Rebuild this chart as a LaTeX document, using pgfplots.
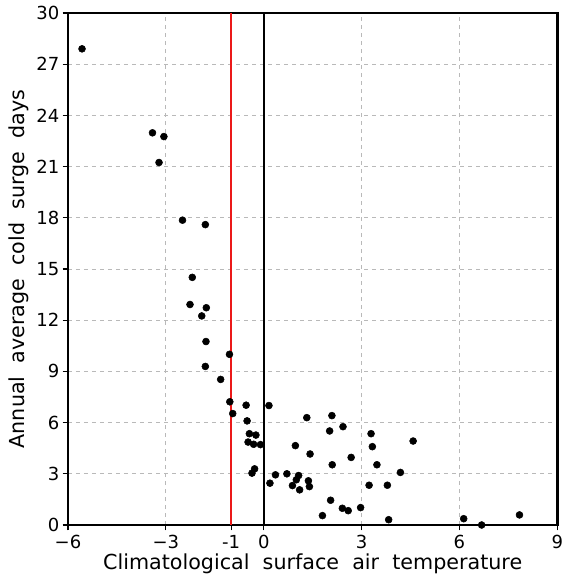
\documentclass[border=0pt]{standalone}
\usepackage{fontspec}
\setmainfont{DejaVu Sans}
\usepackage{pgfplots}
\pgfplotsset{compat=1.18}
\definecolor{refline}{RGB}{235,25,25}

\begin{document}
\begin{tikzpicture}
\begin{axis}[
    name=ax,
    scale only axis,
    width=367pt, height=384pt,
    xmin=-6, xmax=9, ymin=0, ymax=30,
    xtick={-6,-3,-1,0,3,6,9},
    xticklabels={−6,−3,-1,0,3,6,9},
    ytick={0,3,...,30},
    tick align=outside,
    major tick length=4pt,
    xtick pos=bottom, ytick pos=left,
    grid=major,
    grid style={dashed, gray!55, line width=0.6pt},
    axis line style={line width=1.8pt},
    tick style={black, line width=0.8pt},
    /pgf/number format/assume math mode=true,
    tick label style={font=\fontsize{13.5}{15}\selectfont},
    label style={font=\fontsize{15.5}{18}\selectfont},
    xlabel={Climatological\ \ surface\ \ air\ \ temperature},
    ylabel={Annual\ \ average\ \ cold\ \ surge\ \ days},
    xlabel style={yshift=3pt},
    ylabel style={yshift=-1pt},
    yticklabel style={xshift=1pt},
]
\addplot[black, line width=1.5pt] coordinates {(0,0)(0,30)};
\addplot[refline, line width=1.5pt] coordinates {(-1,0)(-1,30)};
\addplot[only marks, mark=*, mark size=2.6pt, black] coordinates {
(-5.57,27.9)(-3.41,22.98)(-3.06,22.76)(-3.21,21.24)(-2.49,17.86)(-1.79,17.6)
(-2.19,14.51)(-2.26,12.92)(-1.76,12.73)(-1.90,12.25)(-1.77,10.75)(-1.05,10.0)
(-1.79,9.29)(-1.32,8.53)(-1.04,7.22)(-0.95,6.53)(-0.54,7.02)(0.16,7.0)
(-0.51,6.10)(-0.44,5.35)(-0.24,5.27)(-0.48,4.86)(-0.31,4.73)(-0.10,4.71)
(-0.28,3.29)(-0.36,3.04)(0.19,2.45)(0.36,2.94)(0.71,3.0)(0.88,2.31)
(1.10,2.06)(1.00,2.65)(1.07,2.90)(0.97,4.65)(1.32,6.29)(2.09,6.41)
(2.02,5.51)(2.43,5.76)(1.42,4.16)(3.29,5.35)(3.33,4.59)(4.58,4.92)
(2.68,3.96)(2.10,3.53)(3.47,3.53)(4.19,3.08)(1.37,2.59)(1.40,2.25)
(3.23,2.33)(3.79,2.33)(2.05,1.45)(2.41,0.98)(2.59,0.84)(2.97,1.02)
(1.80,0.55)(3.83,0.31)(6.13,0.37)(6.68,0.0)(7.84,0.59)
};
\end{axis}
\pgfresetboundingbox
\path ([xshift=-51pt,yshift=-37.5pt]ax.south west) rectangle ([xshift=5.5pt,yshift=9.75pt]ax.north east);
\end{tikzpicture}
\end{document}
